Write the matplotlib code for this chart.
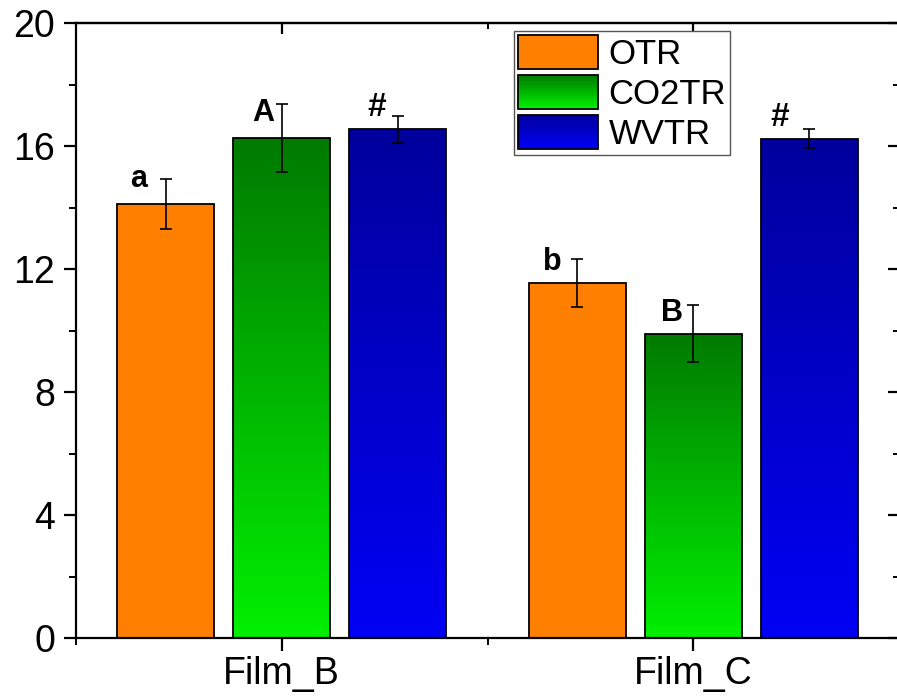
import numpy as np
import matplotlib
matplotlib.use("Agg")
import matplotlib.pyplot as plt
from matplotlib.patches import Rectangle
from matplotlib.legend_handler import HandlerBase
from matplotlib.colors import LinearSegmentedColormap

plt.rcParams['font.family'] = ['Liberation Sans', 'DejaVu Sans']

categories = ["Film_B", "Film_C"]
series = ["OTR", "CO2TR", "WVTR"]
otr = [14.11, 11.54]
co2tr = [16.26, 9.89]
wvtr = [16.55, 16.23]
otr_err = [0.82, 0.77]
co2tr_err = [1.12, 0.93]
wvtr_err = [0.44, 0.31]
otr_lbl = ["a", "b"]
co2tr_lbl = ["A", "B"]
wvtr_lbl = ["#", "#"]
yticks = [0, 4, 8, 12, 16, 20]
yminor = [2, 6, 10, 14, 18]

values = [otr, co2tr, wvtr]
errors = [otr_err, co2tr_err, wvtr_err]
labels = [otr_lbl, co2tr_lbl, wvtr_lbl]
# gradient (top color, bottom color)
grads = [("#FF8000", "#FF7F00"), ("#007A00", "#00F000"), ("#00009C", "#0000F5")]
# label offsets in pixels (dx, dy) per series/category
lbl_off = [[(-27, 10), (-25, 6)], [(-19, 10), (-21, 6)], [(-21, 6), (-30, 6)]]

W, H = 897, 700
fig = plt.figure(figsize=(W / 100, H / 100), dpi=100)
ax = fig.add_axes([76 / W, (H - 638) / H, (899 - 76) / W, 615 / H])

x = np.arange(len(categories))
width = 0.235
offset = 0.282

for i, (vals, errs, lbls, (ctop, cbot)) in enumerate(zip(values, errors, labels, grads)):
    cmap = LinearSegmentedColormap.from_list("g%d" % i, [cbot, ctop])
    xs = x + (i - 1) * offset
    bars = ax.bar(xs, vals, width, facecolor="none", edgecolor="black", linewidth=1.3, zorder=3)
    for b in bars:
        bx, by = b.get_x(), b.get_y()
        bw, bh = b.get_width(), b.get_height()
        grad = np.linspace(0, 1, 256).reshape(-1, 1)
        im = ax.imshow(grad, cmap=cmap, origin="lower", aspect="auto",
                       extent=[bx, bx + bw, by, by + bh], zorder=2, interpolation="bilinear")
        im.set_clip_path(b)
    ax.errorbar(xs, vals, yerr=errs, fmt="none", ecolor="black", elinewidth=1.2,
                capsize=4.3, capthick=1.2, zorder=4)
    for j in range(len(categories)):
        dx, dy = lbl_off[i][j]
        fs = 24 if lbls[j] == "#" else 22
        ax.annotate(lbls[j], (xs[j], vals[j]), xytext=(dx * 0.72, dy * 0.72),
                    textcoords="offset points", ha="center", va="bottom",
                    fontsize=fs, fontweight="heavy", zorder=5)

ax.set_xlim(-0.5, 1.5)
ax.set_ylim(0, 20)
ax.set_yticks(yticks)
ax.set_yticks(yminor, minor=True)
ax.set_xticks(x)
ax.set_xticklabels(categories)
ax.set_xticks([-0.5, 0.5, 1.5], minor=True)

for s in ax.spines.values():
    s.set_linewidth(1.6)

ax.tick_params(axis="both", which="major", labelsize=27, width=1.6)
ax.tick_params(axis="y", which="major", direction="out", length=9, pad=6)
ax.tick_params(axis="x", which="major", direction="out", length=9, pad=4)
ax.tick_params(axis="both", which="minor", direction="out", length=5, width=1.4)

# inward ticks on top and right
axt = ax.secondary_xaxis("top")
axt.set_xticks(x)
axt.set_xticks([-0.5, 0.5, 1.5], minor=True)
axt.tick_params(which="major", direction="in", length=8, width=1.6, labeltop=False)
axt.tick_params(which="minor", direction="in", length=4, width=1.4)
axt.spines["top"].set_linewidth(1.6)
axr = ax.secondary_yaxis("right")
axr.set_yticks(yticks)
axr.set_yticks(yminor, minor=True)
axr.tick_params(which="major", direction="in", length=8, width=1.6, labelright=False)
axr.tick_params(which="minor", direction="in", length=4, width=1.4)
axr.spines["right"].set_linewidth(1.6)

# Legend with gradient handles
class GradHandler(HandlerBase):
    def __init__(self, ctop, cbot, n=24):
        super().__init__()
        self.ctop, self.cbot, self.n = ctop, cbot, n

    def create_artists(self, legend, orig_handle, xdescent, ydescent, width, height, fontsize, trans):
        arts = []
        cmap = LinearSegmentedColormap.from_list("h", [self.cbot, self.ctop])
        hh = height / self.n
        for k in range(self.n):
            r = Rectangle((-xdescent, -ydescent + k * hh), width, hh * 1.05,
                          facecolor=cmap((k + 0.5) / self.n), edgecolor="none", transform=trans)
            arts.append(r)
        arts.append(Rectangle((-xdescent, -ydescent), width, height, facecolor="none",
                              edgecolor="black", linewidth=1.3, transform=trans))
        return arts

handles = [Rectangle((0, 0), 1, 1) for _ in series]
hmap = {h: GradHandler(ct, cb) for h, (ct, cb) in zip(handles, grads)}
leg = ax.legend(handles, series, handler_map=hmap, loc="upper left",
                bbox_to_anchor=((514 - 76) / 823, (638 - 31) / 615), borderaxespad=0,
                fontsize=25, handlelength=2.3, handleheight=1.12, labelspacing=0.12,
                handletextpad=0.3, borderpad=0.12, fancybox=False, framealpha=1,
                edgecolor="#555555")
leg.get_frame().set_linewidth(1.0)
leg.set_zorder(10)

fig.savefig("out.png", dpi=100)
